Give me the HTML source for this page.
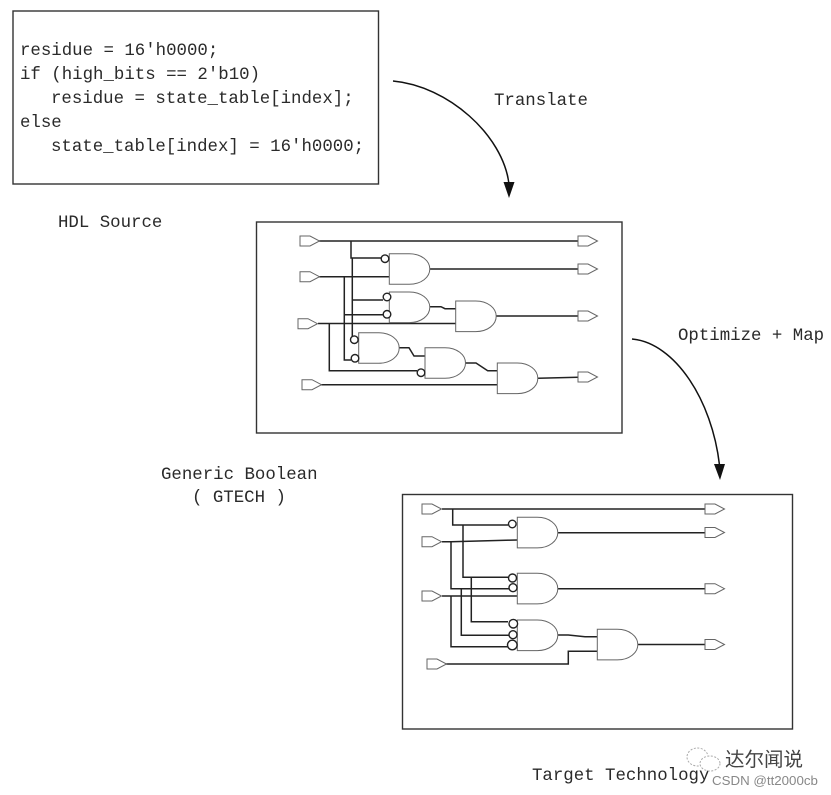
<!DOCTYPE html>
<html><head><meta charset="utf-8"><style>
html,body{margin:0;padding:0;background:#fff}
svg{display:block;filter:blur(.35px)}
text{font-family:"Liberation Mono",monospace;font-size:17.4px;fill:#2a2a2a}
.b{fill:none;stroke:#333;stroke-width:1.4}
.w{fill:none;stroke:#222;stroke-width:1.5}
.g{fill:#fff;stroke:#666;stroke-width:1}
.c{fill:#fff;stroke:#222;stroke-width:1.4}
</style></head><body>
<svg width="831" height="795" viewBox="0 0 831 795" xmlns="http://www.w3.org/2000/svg">
<defs>
<path id="and" d="M0 0H20C32 0 40.500 7 40.500 15.300C40.500 23.600 32 30.600 20 30.600H0Z"/>
<path id="pin" d="M0 -5H10L19.500 0L10 5H0Z"/>
</defs>
<rect class="b" x="13" y="11" width="365.500" height="173"/>
<rect class="b" x="256.500" y="222" width="365.500" height="211"/>
<rect class="b" x="402.500" y="494.500" width="390" height="234.500"/>
<text x="20" y="55">residue = 16'h0000;</text>
<text x="20" y="79">if (high_bits == 2'b10)</text>
<text x="51" y="103">residue = state_table[index];</text>
<text x="20" y="127">else</text>
<text x="51" y="151">state_table[index] = 16'h0000;</text>
<text x="58" y="227">HDL Source</text>
<text x="494" y="105">Translate</text>
<text x="678" y="340">Optimize + Map</text>
<text x="161" y="479">Generic Boolean</text>
<text x="192" y="502">( GTECH )</text>
<text x="532" y="780">Target Technology</text>
<path d="M393 81C448 86 503 135 509 184" fill="none" stroke="#111" stroke-width="1.500"/>
<path d="M503.500 182L514.500 182L509 198Z" fill="#111"/>
<path d="M632 339C675 343 712 400 719.500 465" fill="none" stroke="#111" stroke-width="1.500"/>
<path d="M714 464L725 464L720 480Z" fill="#111"/>

<g class="w">
<path d="M319 241H578M351 241V258H381M352.300 258V340H350"/>
<path d="M319 276.700H389M344.300 276.700V360H351"/>
<path d="M352 300H383M344.300 314.700H383"/>
<path d="M318 323.500H455.700M329.300 323.500V370.700H417"/>
<path d="M321 384.700H497.300"/>
<path d="M430 269H578M430 306.700H441L445 308.700H455.700M496 316H578"/>
<path d="M399 347.700H409L414 356H425M465 363H476L487.700 370.700H497.300M538 378.300L578 377.300"/>
</g>
<g class="g">
<use href="#and" x="389.300" y="253.700"/><use href="#and" x="389.300" y="292"/><use href="#and" x="455.700" y="301"/>
<use href="#and" x="358.700" y="332.700"/><use href="#and" x="425" y="347.700"/><use href="#and" x="497.300" y="363"/>
<use href="#pin" x="300" y="241"/><use href="#pin" x="300" y="276.700"/><use href="#pin" x="298" y="323.700"/><use href="#pin" x="302" y="384.700"/>
<use href="#pin" x="578" y="241"/><use href="#pin" x="578" y="269"/><use href="#pin" x="578" y="316"/><use href="#pin" x="578" y="377"/>
</g>
<circle class="c" cx="385" cy="258.700" r="3.800"/><circle class="c" cx="387" cy="297" r="3.800"/><circle class="c" cx="387" cy="314.300" r="3.800"/>
<circle class="c" cx="354.300" cy="339.700" r="3.800"/><circle class="c" cx="355" cy="358.300" r="3.800"/><circle class="c" cx="421" cy="372.700" r="3.800"/>

<g class="w">
<path d="M442 509H705M452.700 509V525H508M463 525V577.300H508M471.300 577.300V621.700H508"/>
<path d="M442 541.700H451L517.300 540M451 541.700V588.700H509M461.300 588.700V635.300H509"/>
<path d="M442 596H517.300M451 596V646.700H508"/>
<path d="M445.300 664H568.300V651.300H597.300"/>
<path d="M558 532.700H705M558 588.700H705M558 635L568.300 635L585 636.700H597.300M638 644.500H705"/>
</g>
<g class="g">
<use href="#and" x="517.300" y="517.300"/><use href="#and" x="517.300" y="573.300"/><use href="#and" x="517.300" y="620"/><use href="#and" x="597.300" y="629.300"/>
<use href="#pin" x="422" y="509"/><use href="#pin" x="422" y="541.700"/><use href="#pin" x="422" y="596"/><use href="#pin" x="427" y="664"/>
<use href="#pin" x="705" y="509"/><use href="#pin" x="705" y="532.500"/><use href="#pin" x="705" y="588.700"/><use href="#pin" x="705" y="644.500"/>
</g>
<circle class="c" cx="512.300" cy="524" r="3.800"/><circle class="c" cx="512.500" cy="578" r="4"/><circle class="c" cx="513" cy="587.700" r="4"/>
<circle class="c" cx="513.300" cy="623.700" r="4.300"/><circle class="c" cx="513" cy="634.700" r="4"/><circle class="c" cx="512.300" cy="645" r="4.800"/>

<g fill="#fff" stroke="#aaa" stroke-width="1" stroke-dasharray="2 1.500">
<ellipse cx="697.500" cy="757" rx="10.500" ry="9"/>
<ellipse cx="710" cy="763.500" rx="10" ry="7.500"/>
</g>
<text x="725" y="766" style="font-family:'Noto Sans CJK SC',sans-serif;font-size:19.500px;fill:#444">达尔闻说</text>
<text x="712" y="785" style="font-family:'Liberation Sans',sans-serif;font-size:13.300px;fill:#888">CSDN @tt2000cb</text>
</svg>
</body></html>
